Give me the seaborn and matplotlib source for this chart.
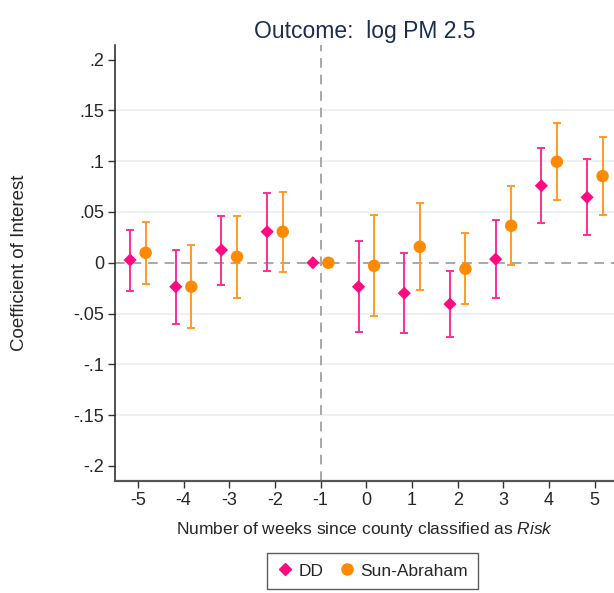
import numpy as np
import pandas as pd
import matplotlib
matplotlib.use("Agg")
import matplotlib.pyplot as plt
import seaborn as sns
from matplotlib.lines import Line2D

weeks = [-5, -4, -3, -2, -1, 0, 1, 2, 3, 4, 5]
dd_coef = [0.0027, -0.0236, 0.0125, 0.0305, 0.0, -0.0236, -0.0300, -0.0407, 0.0036, 0.0758, 0.0644]
dd_lo = [-0.0275, -0.0600, -0.0220, -0.0079, 0.0, -0.0685, -0.0695, -0.0730, -0.0345, 0.0394, 0.0270]
dd_hi = [0.0320, 0.0130, 0.0460, 0.0690, 0.0, 0.0214, 0.0095, -0.0079, 0.0417, 0.1130, 0.1018]
sa_coef = [0.0098, -0.0236, 0.0059, 0.0305, 0.0, -0.0030, 0.0157, -0.0060, 0.0364, 0.0994, 0.0853]
sa_lo = [-0.0213, -0.0640, -0.0347, -0.0089, 0.0, -0.0520, -0.0270, -0.0410, -0.0026, 0.0617, 0.0470]
sa_hi = [0.0400, 0.0174, 0.0460, 0.0696, 0.0, 0.0470, 0.0588, 0.0295, 0.0755, 0.1375, 0.1237]
series = ["DD", "Sun-Abraham"]
yticks = [0.2, 0.15, 0.1, 0.05, 0, -0.05, -0.1, -0.15, -0.2]
ytick_labels = [".2", ".15", ".1", ".05", "0", "-.05", "-.1", "-.15", "-.2"]

colors = {"DD": "#ff0a80", "Sun-Abraham": "#ff8a00"}
bar_colors = {"DD": "#ff2e92", "Sun-Abraham": "#ff9a26"}
offsets = {"DD": -0.17, "Sun-Abraham": 0.17}

rows = []
for i, w in enumerate(weeks):
    rows.append(dict(week=w, model="DD", coef=dd_coef[i], lo=dd_lo[i], hi=dd_hi[i]))
    rows.append(dict(week=w, model="Sun-Abraham", coef=sa_coef[i], lo=sa_lo[i], hi=sa_hi[i]))
df = pd.DataFrame(rows)
df["pos"] = df["week"] + df["model"].map(offsets)

sns.set_style("white")
plt.rcParams["font.family"] = ["Liberation Sans", "DejaVu Sans"]
plt.rcParams["mathtext.fontset"] = "custom"
plt.rcParams["mathtext.it"] = "Liberation Sans:italic"
plt.rcParams["mathtext.rm"] = "Liberation Sans"

fig = plt.figure(figsize=(6.14, 5.93), dpi=100)
ax = fig.add_axes([0.1873, 0.1894, 0.8127, 0.7347])

for y in [0.15, 0.1, 0.05, -0.05, -0.1, -0.15]:
    ax.axhline(y, color="#eaf0f4", lw=1.3, zorder=0)
ax.axhline(0, color="#a8a8a8", lw=1.4, ls=(0, (5, 3.5)), zorder=1)
ax.axvline(-1, color="#a8a8a8", lw=1.4, ls=(0, (5, 3.5)), zorder=1)

for m in series:
    sub = df[df["model"] == m]
    s2 = sub[sub["hi"] != sub["lo"]]
    ax.errorbar(s2["pos"], s2["coef"], yerr=[s2["coef"] - s2["lo"], s2["hi"] - s2["coef"]],
                fmt="none", ecolor=bar_colors[m], elinewidth=1.4, capsize=3.2, capthick=1.4, zorder=2)

sns.scatterplot(data=df, x="pos", y="coef", hue="model", style="model",
                markers={"DD": "D", "Sun-Abraham": "o"}, palette=colors,
                s=70, edgecolor="none", linewidth=0, ax=ax, zorder=3, legend=False)
coll = ax.collections[-1]
coll.set_sizes(np.where(df["model"].values == "DD", 45, 80))

ax.set_xlim(-5.5, 5.42)
ax.set_ylim(-0.2145, 0.2143)
ax.set_xticks(weeks)
ax.set_xticklabels([str(w) for w in weeks], fontsize=13)
ax.set_yticks(yticks)
ax.set_yticklabels(ytick_labels, fontsize=13)
ax.tick_params(axis="both", direction="out", length=5, width=1, color="#333333", pad=3)
ax.tick_params(axis="both", which="both", bottom=True, left=True)
for sp in ["top", "right"]:
    ax.spines[sp].set_visible(False)
ax.spines["left"].set_color("#222222")
ax.spines["bottom"].set_color("#555555")
ax.spines["bottom"].set_linewidth(1.6)
ax.spines["left"].set_linewidth(1.1)

ax.set_xlabel("Number of weeks since county classified as $Risk$", fontsize=12.5, labelpad=8)
ax.set_ylabel("Coefficient of Interest", fontsize=13.5)
ax.yaxis.set_label_coords(-0.175, 0.5)
ax.set_title("Outcome:  log PM 2.5", fontsize=16.5, color="#1c2d4f", pad=5)

handles = [Line2D([], [], marker="D", color=colors["DD"], ls="none", markersize=6.5),
           Line2D([], [], marker="o", color=colors["Sun-Abraham"], ls="none", markersize=8)]
leg = fig.legend(handles, series, loc="upper left", bbox_to_anchor=(267 / 614, 1 - 553 / 593),
                 borderaxespad=0, ncol=2, frameon=True, fontsize=12.5,
                 handletextpad=0.3, columnspacing=0.9,
                 borderpad=0.6, handlelength=0.9, fancybox=False)
leg.get_frame().set_edgecolor("#333333")
leg.get_frame().set_linewidth(1.0)

fig.savefig("out.png", dpi=100)
